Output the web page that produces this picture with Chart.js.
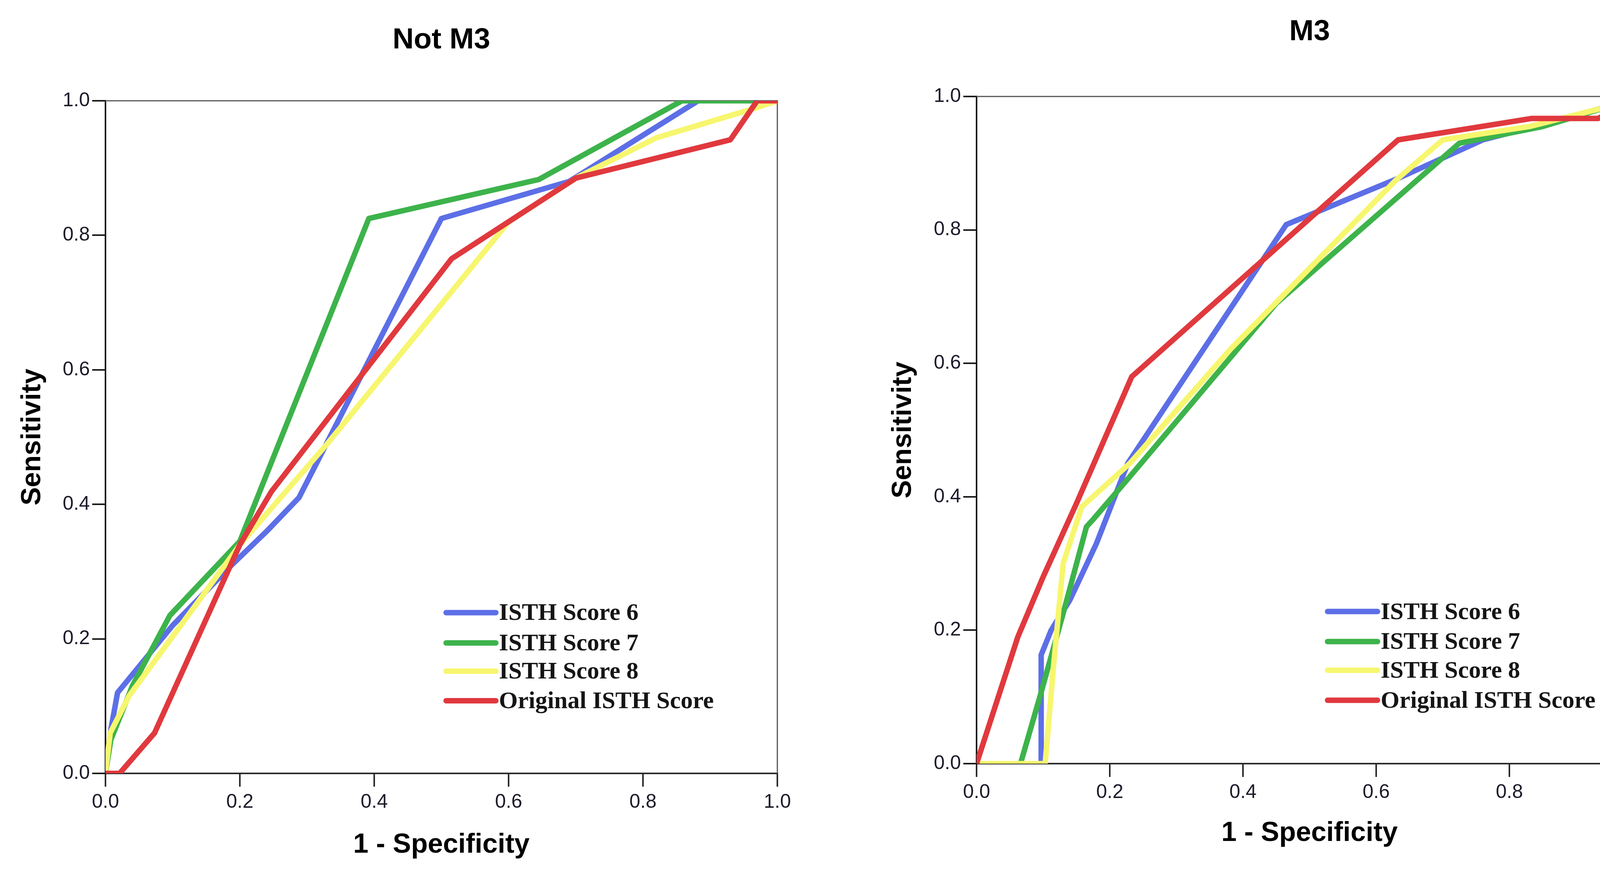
<!DOCTYPE html>
<html>
<head>
<meta charset="utf-8">
<script src="https://cdn.jsdelivr.net/npm/chart.js@4.4.1/dist/chart.umd.min.js"></script>
<style>
  html, body { margin: 0; padding: 0; background: #fff; width: 4264px; height: 2235px; overflow: hidden; }
  canvas { position: absolute; top: 0; }
  #notM3 { left: 0; width: 2130px; height: 2235px; }
  #m3 { left: 2130px; width: 2134px; height: 2235px; }
</style>
</head>
<body>
<canvas id="notM3" width="2130" height="2235"></canvas>
<canvas id="m3" width="2134" height="2235"></canvas>
<script>
// ---- data ----
const legendLabels = ["ISTH Score 6", "ISTH Score 7", "ISTH Score 8", "Original ISTH Score"];
const lineColors = ["#5d6fe6", "#3db34b", "#f7f66f", "#e0393e"];
const tickValues = [0, 0.2, 0.4, 0.6, 0.8, 1.0];
const tickLabels = ["0.0", "0.2", "0.4", "0.6", "0.8", "1.0"];

// Not M3
const notM3_s6_x = [0, 0.008, 0.018, 0.064, 0.1, 0.188, 0.24, 0.288, 0.5, 0.69, 0.882, 1];
const notM3_s6_y = [0, 0.065, 0.12, 0.176, 0.22, 0.31, 0.36, 0.41, 0.825, 0.88, 1, 1];
const notM3_s7_x = [0, 0.008, 0.04, 0.096, 0.2, 0.392, 0.645, 0.858, 1];
const notM3_s7_y = [0, 0.05, 0.13, 0.235, 0.345, 0.825, 0.883, 1, 1];
const notM3_s8_x = [0, 0.007, 0.035, 0.2, 0.33, 0.6, 0.7, 0.82, 0.97, 1];
const notM3_s8_y = [0, 0.06, 0.115, 0.34, 0.49, 0.82, 0.885, 0.945, 0.99, 1];
const notM3_orig_x = [0, 0.021, 0.073, 0.2, 0.247, 0.515, 0.7, 0.93, 0.97, 1];
const notM3_orig_y = [0, 0, 0.06, 0.34, 0.419, 0.765, 0.885, 0.942, 1, 1];

// M3
const m3_s6_x = [0, 0.097, 0.097, 0.112, 0.14, 0.18, 0.227, 0.465, 0.63, 0.76, 0.87, 1];
const m3_s6_y = [0, 0, 0.163, 0.2, 0.245, 0.33, 0.45, 0.808, 0.876, 0.935, 0.963, 1];
const m3_s7_x = [0, 0.066, 0.095, 0.13, 0.165, 0.175, 0.23, 0.45, 0.725, 0.85, 1];
const m3_s7_y = [0, 0, 0.1, 0.225, 0.355, 0.366, 0.43, 0.69, 0.93, 0.955, 1];
const m3_s8_x = [0, 0.103, 0.115, 0.13, 0.158, 0.23, 0.38, 0.63, 0.7, 0.83, 0.93, 1];
const m3_s8_y = [0, 0, 0.14, 0.3, 0.385, 0.45, 0.62, 0.875, 0.935, 0.955, 0.98, 1];
const m3_orig_x = [0, 0.062, 0.1, 0.15, 0.233, 0.633, 0.833, 0.933, 1];
const m3_orig_y = [0, 0.19, 0.28, 0.39, 0.58, 0.935, 0.967, 0.967, 1];

// ---- plugins ----
// top + right edge of the plot box
const framePlugin = {
  id: 'frame',
  beforeDatasetsDraw(chart) {
    const { ctx, chartArea: a } = chart;
    ctx.save();
    ctx.strokeStyle = '#555';
    ctx.lineWidth = 3;
    ctx.beginPath();
    ctx.moveTo(a.left, a.top);
    ctx.lineTo(a.right, a.top);
    ctx.lineTo(a.right, a.bottom);
    ctx.stroke();
    ctx.restore();
  }
};

// SPSS style legend sitting inside the plot
const boxLegend = {
  id: 'boxLegend',
  afterDraw(chart, args, opts) {
    const { ctx, chartArea: a } = chart;
    const w = a.right - a.left, h = a.bottom - a.top;
    ctx.save();
    ctx.font = 'bold 62px "Liberation Serif", "DejaVu Serif", serif';
    ctx.textBaseline = 'middle';
    ctx.textAlign = 'left';
    chart.data.datasets.forEach(function (ds, i) {
      const y = a.top + h * opts.rows[i];
      const x0 = a.left + w * opts.x0;
      const x1 = a.left + w * opts.x1;
      ctx.strokeStyle = ds.borderColor;
      ctx.lineWidth = 14;
      ctx.lineCap = 'round';
      ctx.beginPath();
      ctx.moveTo(x0, y);
      ctx.lineTo(x1, y);
      ctx.stroke();
      ctx.fillStyle = '#151515';
      ctx.fillText(ds.label, x1 + 8, y + 3);
    });
    ctx.restore();
  }
};

function toPoints(xs, ys) {
  return xs.map(function (x, j) { return { x: x, y: ys[j] }; });
}

function makeRoc(id, title, series, lay) {
  const tickFont = { family: 'Liberation Sans', size: 50 };
  const axisTitleFont = { family: 'Liberation Sans', size: 70, weight: 'bold' };
  return new Chart(document.getElementById(id), {
    type: 'scatter',
    data: {
      datasets: series.map(function (s, i) {
        return {
          label: legendLabels[i],
          data: toPoints(s[0], s[1]),
          showLine: true,
          borderColor: lineColors[i],
          borderWidth: 14,
          borderJoinStyle: 'round',
          pointRadius: 0,
          tension: 0,
          order: 4 - i
        };
      })
    },
    options: {
      responsive: false,
      animation: false,
      devicePixelRatio: 1,
      layout: { padding: { top: 0, left: 0, bottom: 0, right: lay.right } },
      plugins: {
        legend: { display: false },
        tooltip: { enabled: false },
        title: {
          display: true,
          text: title,
          fullSize: false,
          color: '#000',
          font: { family: 'Liberation Sans', size: 75, weight: 'bold' },
          padding: { top: lay.titleTop, bottom: lay.titleBottom }
        },
        boxLegend: lay.legend
      },
      scales: {
        x: {
          type: 'linear',
          min: 0,
          max: 1,
          afterFit: function (s) { s.height = lay.xh; },
          afterBuildTicks: function (s) { s.ticks = tickValues.map(function (v) { return { value: v }; }); },
          ticks: {
            callback: function (v, i) { return tickLabels[i]; },
            font: tickFont,
            color: '#1b1b2a',
            padding: 10,
            maxRotation: 0
          },
          grid: { drawOnChartArea: false, tickLength: 34, color: '#2a2a2a', lineWidth: 4 },
          border: { color: '#2a2a2a', width: 4 },
          title: { display: true, text: '1 - Specificity', color: '#000', font: axisTitleFont, padding: { top: 0, bottom: lay.xtPad } }
        },
        y: {
          type: 'linear',
          min: 0,
          max: 1,
          afterFit: function (s) { s.width = lay.yw; },
          afterBuildTicks: function (s) { s.ticks = tickValues.map(function (v) { return { value: v }; }); },
          ticks: {
            callback: function (v, i) { return tickLabels[i]; },
            font: tickFont,
            color: '#1b1b2a',
            padding: 6
          },
          grid: { drawOnChartArea: false, tickLength: 34, color: '#1a1a1a', lineWidth: 4 },
          border: { color: '#1a1a1a', width: 4 },
          title: { display: true, text: 'Sensitivity', color: '#000', font: axisTitleFont, padding: { top: lay.ytPad, bottom: 0 } }
        }
      }
    },
    plugins: [framePlugin, boxLegend]
  });
}

makeRoc('notM3', 'Not M3', [
  [notM3_s6_x, notM3_s6_y],
  [notM3_s7_x, notM3_s7_y],
  [notM3_s8_x, notM3_s8_y],
  [notM3_orig_x, notM3_orig_y]
], {
  right: 140, yw: 270, xh: 255,
  titleTop: 58, titleBottom: 110,
  xtPad: 29, ytPad: 42,
  legend: { x0: 0.507, x1: 0.581, rows: [0.761, 0.806, 0.848, 0.892] }
});

makeRoc('m3', 'M3', [
  [m3_s6_x, m3_s6_y],
  [m3_s7_x, m3_s7_y],
  [m3_s8_x, m3_s8_y],
  [m3_orig_x, m3_orig_y]
], {
  right: 59, yw: 370, xh: 280,
  titleTop: 37, titleBottom: 120,
  xtPad: 59, ytPad: 141,
  legend: { x0: 0.527, x1: 0.602, rows: [0.772, 0.817, 0.860, 0.905] }
});
</script>
</body>
</html>
